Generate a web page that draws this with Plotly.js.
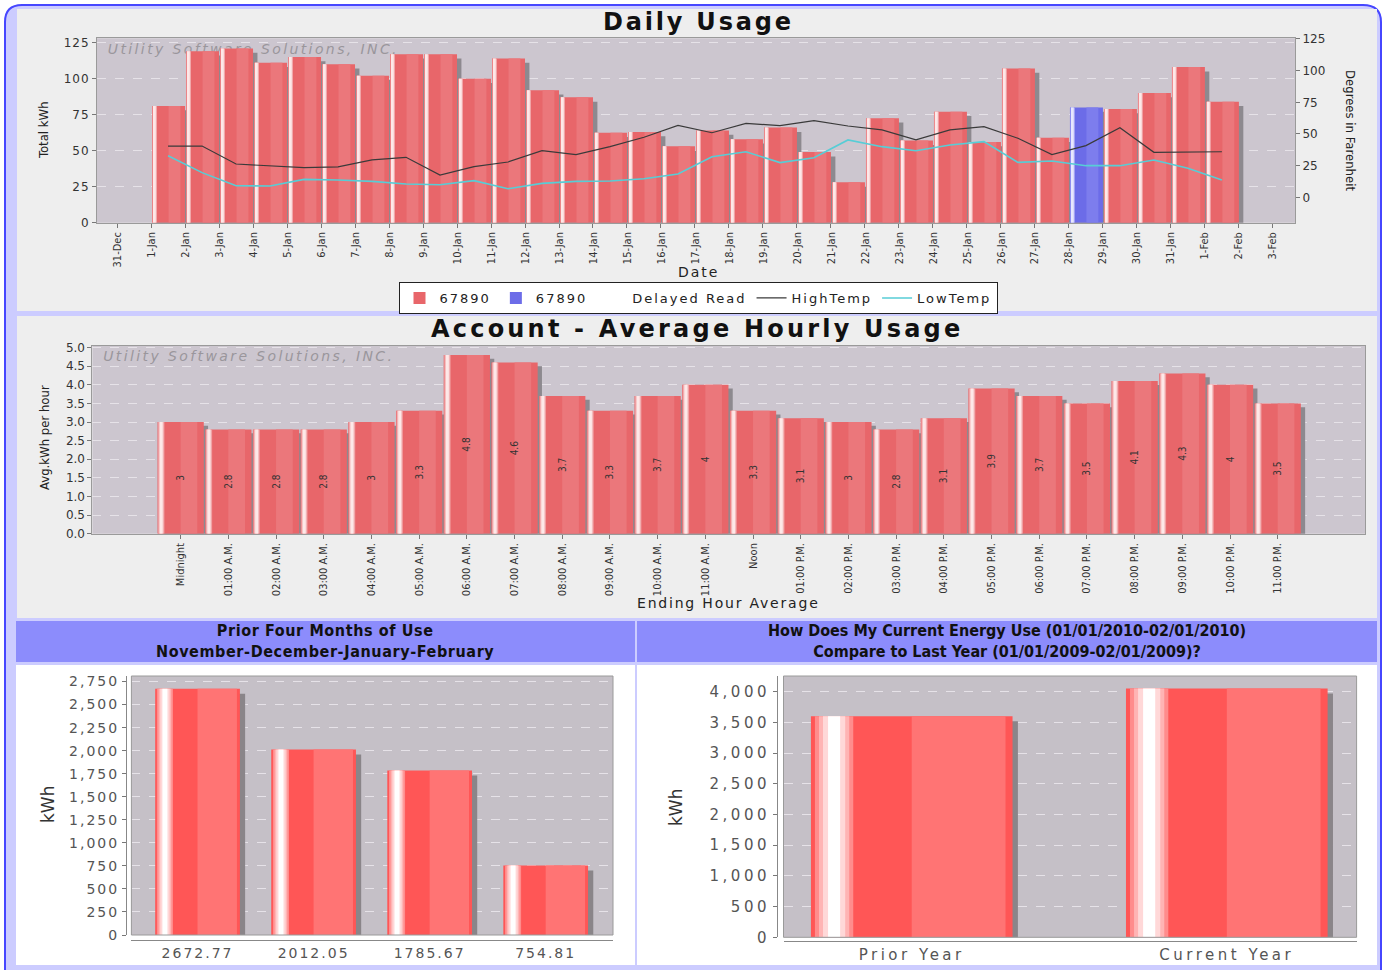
<!DOCTYPE html>
<html><head><meta charset="utf-8">
<script src="https://cdn.plot.ly/plotly-3.0.1.min.js"></script>
<style>
html,body{margin:0;padding:0;background:#fff;}
#chart{width:1382px;height:970px;}
#chart .subplot.x4y4 .xaxislayer-above text,#chart .subplot.x4y4 .yaxislayer-above text{letter-spacing:2px;}
#chart .subplot.x5y5 .xaxislayer-above text,#chart .subplot.x5y5 .yaxislayer-above text{letter-spacing:3.5px;}
#chart .subplot.xy .yaxislayer-above text{letter-spacing:1px;}
</style>
</head><body><div id="chart"></div>
<script>
// ---------------- DATA ----------------
const dateLabels = ['31-Dec','1-Jan','2-Jan','3-Jan','4-Jan','5-Jan','6-Jan','7-Jan','8-Jan','9-Jan','10-Jan',
  '11-Jan','12-Jan','13-Jan','14-Jan','15-Jan','16-Jan','17-Jan','18-Jan','19-Jan','20-Jan','21-Jan','22-Jan',
  '23-Jan','24-Jan','25-Jan','26-Jan','27-Jan','28-Jan','29-Jan','30-Jan','31-Jan','1-Feb','2-Feb','3-Feb'];
const dailyUsage = [null,81,119,121,111,115,110,102,117,117,100,114,92,87,62.5,63,53,64,58,66,49,28,72.5,57,77,56,107,59,null,79,90,108,84,null,null];
const dailyUsageAlt = [null,null,null,null,null,null,null,null,null,null,null,null,null,null,null,null,null,null,null,null,null,null,null,null,null,null,null,null,80,null,null,null,null,null,null];
const highTemp = [null,40.5,40.5,26.3,24.7,23.4,24,29.5,31.6,17.6,24.2,27.9,36.8,33.7,40,47.4,56.8,51,58.4,56.6,60.5,56.3,53.2,45.3,53.2,55.8,46.6,33.7,40.8,55,35.5,35.5,36,null,null];
const lowTemp = [null,32.9,19.5,9.2,8.9,14.2,13.7,12.6,10.5,10,13.2,6.8,11,12.6,12.9,14.7,18.4,32,36,27.4,31.3,45.3,40,36.8,41.3,44,27.6,28.7,25,25,29.5,22.9,13.7,null,null];
const seriesNames = ['67890','67890','Delayed Read','HighTemp','LowTemp'];

const hourLabels = ['Midnight','01:00 A.M.','02:00 A.M.','03:00 A.M.','04:00 A.M.','05:00 A.M.','06:00 A.M.',
  '07:00 A.M.','08:00 A.M.','09:00 A.M.','10:00 A.M.','11:00 A.M.','Noon','01:00 P.M.','02:00 P.M.','03:00 P.M.',
  '04:00 P.M.','05:00 P.M.','06:00 P.M.','07:00 P.M.','08:00 P.M.','09:00 P.M.','10:00 P.M.','11:00 P.M.'];
const hourlyAvg = [3,2.8,2.8,2.8,3,3.3,4.8,4.6,3.7,3.3,3.7,4,3.3,3.1,3,2.8,3.1,3.9,3.7,3.5,4.1,4.3,4,3.5];

const monthLabels = ['2672.77','2012.05','1785.67','754.81'];
const monthUsage = [2672.77,2012.05,1785.67,754.81];

const yearLabels = ['Prior Year','Current Year'];
const yearUsage = [3600,4050];

// ---------------- HELPERS ----------------
const WPX = 1382, HPX = 970;
const px = v => v / WPX;
const py = v => 1 - v / HPX;
const fontMain = "'DejaVu Sans', sans-serif";
const fontCond = "'DejaVu Sans Condensed', 'Liberation Sans Narrow', 'DejaVu Sans', sans-serif";
const spaced = (t, s) => `<span style="letter-spacing:${s}px">${t}</span>`;
const legName = i => spaced(seriesNames[i], 2);

function shadowTrace(c) {
  return {type:'bar', x:c.x, y:c.y, xaxis:c.xa, yaxis:c.ya, base:-c.dy, offset:c.start + c.dx, width:c.W,
    marker:{color:c.shadow, line:{width:0}}, showlegend:false, hoverinfo:'skip', textposition:'none'};
}
function bodyTraces(c) {
  const t = [];
  t.push({type:'bar', x:c.x, y:c.y, xaxis:c.xa, yaxis:c.ya, offset:c.start, width:c.W, name:c.name,
    showlegend:!!c.legend, legendrank:c.rank, marker:{color:c.color, line:{width:0}}, hoverinfo:'x+y', textposition:'none'});
  c.layers.forEach(l => {
    t.push({type:'bar', x:c.x, y:c.y, xaxis:c.xa, yaxis:c.ya, offset:c.start + l[0]*c.W, width:(l[1]-l[0])*c.W,
      marker:{color:l[2], line:{width:0}}, showlegend:false, hoverinfo:'skip', textposition:'none'});
  });
  return t;
}

const redTop = [[0.5,0.86,'#eb777b'],[0.012,0.15,'#ef9a9d'],[0.03,0.13,'#f6c2c3'],[0.05,0.11,'#fde8e8']];
const blueTop = [[0.5,0.86,'#7d7ded'],[0.012,0.15,'#9c9cf2'],[0.03,0.13,'#c4c4f7'],[0.05,0.11,'#e8e8fe']];
const redBottom = [[0.5,0.965,'#ff7474'],[0.02,0.21,'#ff8c8c'],[0.04,0.19,'#ffb4b4'],[0.06,0.17,'#ffd8d8'],[0.085,0.145,'#ffffff']];

// ---------------- TRACES ----------------
const topRed = {x:dateLabels, y:dailyUsage, xa:'x', ya:'y', start:0.03, W:0.97, dx:0.13, dy:3, shadow:'#8d898f',
  color:'#e8666a', layers:redTop, name:legName(0), legend:true, rank:1};
const topBlue = {x:dateLabels, y:dailyUsageAlt, xa:'x', ya:'y', start:0.03, W:0.97, dx:0.13, dy:3, shadow:'#8d898f',
  color:'#6c6ce8', layers:blueTop, name:legName(1), legend:true, rank:2};
const mid = {x:hourLabels, y:hourlyAvg, xa:'x3', ya:'y3', start:-0.485, W:0.97, dx:0.09, dy:0.1, shadow:'#8d898f',
  color:'#e8666a', layers:redTop};
const botL = {x:monthLabels, y:monthUsage, xa:'x4', ya:'y4', start:-0.365, W:0.73, dx:0.045, dy:55, shadow:'#8a8589',
  color:'#ff5656', layers:redBottom};
const botR = {x:yearLabels, y:yearUsage, xa:'x5', ya:'y5', start:-0.32, W:0.64, dx:0.017, dy:80, shadow:'#8a8589',
  color:'#ff5656', layers:redBottom};

const data = [];
data.push(shadowTrace(topRed), shadowTrace(topBlue));
data.push(...bodyTraces(topRed), ...bodyTraces(topBlue));
data.push({type:'bar', x:dateLabels, y:dateLabels.map(() => null), xaxis:'x', yaxis:'y', name:legName(2),
  legendrank:3, marker:{color:'rgba(0,0,0,0)'}, hoverinfo:'skip'});
data.push({type:'scatter', mode:'lines', x:dateLabels, y:highTemp, xaxis:'x2', yaxis:'y2', name:legName(3),
  legendrank:4, line:{color:'#3a3a3a', width:1.2}});
data.push({type:'scatter', mode:'lines', x:dateLabels, y:lowTemp, xaxis:'x2', yaxis:'y2', name:legName(4),
  legendrank:5, line:{color:'#57cdd6', width:1.6}});

data.push(shadowTrace(mid), ...bodyTraces(mid));
data.push({type:'bar', x:hourLabels, y:hourlyAvg, xaxis:'x3', yaxis:'y3', offset:mid.start, width:mid.W,
  marker:{color:'rgba(0,0,0,0)'}, text:hourlyAvg.map(String), textposition:'inside', insidetextanchor:'middle',
  textangle:-90, constraintext:'none', textfont:{family:fontCond, size:10, color:'#333'}, showlegend:false, hoverinfo:'skip'});

data.push(shadowTrace(botL), ...bodyTraces(botL));
data.push(shadowTrace(botR), ...bodyTraces(botR));

// ---------------- LAYOUT ----------------
const outerPath = `M ${px(5)},${py(972)} L ${px(5)},${py(22)} Q ${px(5)},${py(5)} ${px(22)},${py(5)} L ${px(1363)},${py(5)} Q ${px(1381)},${py(5)} ${px(1381)},${py(22)} L ${px(1381)},${py(972)} Z`;
function rect(x0,y0,x1,y1,fill,line,layer){
  return {type:'rect', xref:'paper', yref:'paper', x0:px(x0), x1:px(x1), y0:py(y1), y1:py(y0),
    fillcolor:fill, line:line||{width:0}, layer:layer||'below'};
}
const wmFont = {family:fontMain, size:14, color:'#9a969c', style:'italic'};
const shapes = [
  {type:'path', xref:'paper', yref:'paper', path:outerPath, fillcolor:'#ccccff', line:{color:'#4646ff', width:2}, layer:'below'},
  rect(17,9,1377,311,'#eeeeee'),
  rect(17,316,1377,618,'#eeeeee'),
  rect(16,621,635,662,'#8c8cfc'),
  rect(637,621,1377,662,'#8c8cfc'),
  rect(16,665,635,965,'#ffffff'),
  rect(637,665,1377,965,'#ffffff'),
  rect(97,38.3,1295,222.7,'#ccc6cf'),
  rect(92.4,345.7,1365,533.7,'#ccc6cf'),
  rect(131.4,676,613,935,'#c5c0c7'),
  rect(783.5,676,1356.6,937.3,'#c5c0c7'),
  rect(131.4,676,613,935,'rgba(0,0,0,0)',{color:'#9a9a9a',width:1},'above'),
  rect(783.5,676,1356.6,937.3,'rgba(0,0,0,0)',{color:'#9a9a9a',width:1},'above'),
  {type:'rect', xref:'x', yref:'y', x0:-0.45, x1:12, y0:118.5, y1:124.5, fillcolor:'rgba(0,0,0,0)', line:{width:0}, layer:'below',
    label:{text:spaced('Utility Software Solutions, INC.',2.4), textposition:'middle left', padding:3, font:wmFont}},
  {type:'rect', xref:'x3', yref:'y3', x0:-1.75, x1:6, y0:4.7, y1:4.9, fillcolor:'rgba(0,0,0,0)', line:{width:0}, layer:'below',
    label:{text:spaced('Utility Software Solutions, INC.',2.4), textposition:'middle left', padding:3, font:wmFont}}
];

function ann(text,x,y,opts){
  return Object.assign({text, xref:'paper', yref:'paper', x:px(x), y:py(y), xanchor:'center', yanchor:'middle',
    showarrow:false, font:{family:fontMain, size:14, color:'#222'}}, opts||{});
}
const titleFont = {family:fontMain, size:24, color:'#111', weight:'bold'};
const headFont = {family:fontCond, size:16, color:'#111', weight:'bold'};
const annotations = [
  ann(spaced('Daily Usage',2.8),698,22,{font:titleFont}),
  ann(spaced('Account - Average Hourly Usage',3.2),697,329,{font:titleFont}),
  ann('Total kWh',44,130,{textangle:-90, font:{family:fontCond, size:13, color:'#222'}}),
  ann(spaced('Date',2),698,272),
  ann('Degrees in Farenheit',1350,130,{textangle:90, font:{family:fontCond, size:13, color:'#222'}}),
  ann('Avg.kWh per hour',45,438,{textangle:-90, font:{family:fontCond, size:13, color:'#222'}}),
  ann(spaced('Ending Hour Average',1.8),729,603),
  ann(spaced('Prior Four Months of Use',0.6)+'<br>'+spaced('November-December-January-February',0.6),325,641,{font:headFont}),
  ann('How Does My Current Energy Use (01/01/2010-02/01/2010)<br>Compare to Last Year (01/01/2009-02/01/2009)?',1007,641,{font:headFont}),
  ann('kWh',48,805,{textangle:-90, font:{family:fontMain, size:17, color:'#333'}}),
  ann('kWh',676,808,{textangle:-90, font:{family:fontMain, size:17, color:'#333'}})
];

const gridStyle = {gridcolor:'#e6e2e8', griddash:'dash', gridwidth:1};
const tickDark = {family:fontMain, size:12, color:'#333'};
const tickGray = {family:fontMain, size:14, color:'#555'};

const layout = {
  width:WPX, height:HPX, margin:{l:0,r:0,t:0,b:0}, paper_bgcolor:'#ffffff', plot_bgcolor:'rgba(0,0,0,0)',
  barmode:'overlay', showlegend:true, hovermode:'closest',
  legend:{orientation:'h', x:px(698), xanchor:'center', y:py(298), yanchor:'middle', bgcolor:'#ffffff',
    bordercolor:'#222', borderwidth:1, font:{family:fontMain, size:13, color:'#222'}, traceorder:'normal',
    itemwidth:30, itemclick:false, itemdoubleclick:false},
  xaxis:{domain:[px(97),px(1295)], anchor:'y', type:'category', categoryorder:'array', categoryarray:dateLabels,
    range:[-0.59,34.65], tickmode:'linear', tick0:0, dtick:1, tickangle:-90, tickfont:{family:fontCond, size:11, color:'#333'},
    ticks:'outside', ticklen:4, tickcolor:'#777', showline:true, linecolor:'#9a9a9a', mirror:true, showgrid:false, zeroline:false, fixedrange:true},
  xaxis2:{overlaying:'x', anchor:'y', type:'category', categoryorder:'array', categoryarray:dateLabels,
    range:[-1.09,34.15], visible:false, fixedrange:true},
  yaxis:Object.assign({domain:[py(222.7),py(38.3)], anchor:'x', range:[0,128], tick0:0, dtick:25, tickfont:tickDark,
    ticks:'outside', ticklen:4, tickcolor:'#777', showline:true, linecolor:'#9a9a9a', zeroline:false, fixedrange:true}, gridStyle),
  yaxis2:{overlaying:'y', side:'right', anchor:'x', range:[-20,125.5], tick0:0, dtick:25, tickfont:tickDark,
    ticks:'outside', ticklen:4, tickcolor:'#777', showline:true, linecolor:'#9a9a9a', showgrid:false, zeroline:false, fixedrange:true},
  xaxis3:{domain:[px(92.4),px(1365)], anchor:'y3', type:'category', categoryorder:'array', categoryarray:hourLabels,
    range:[-1.85,24.83], tickangle:-90, tickfont:{family:fontCond, size:11, color:'#333'}, ticks:'outside', ticklen:4, tickcolor:'#777',
    showline:true, linecolor:'#9a9a9a', mirror:true, showgrid:false, zeroline:false, fixedrange:true},
  yaxis3:Object.assign({domain:[py(533.7),py(345.7)], anchor:'x3', range:[0,5.05], tick0:0, dtick:0.5, tickformat:'.1f',
    tickfont:tickDark, ticks:'outside', ticklen:4, tickcolor:'#777', showline:true, linecolor:'#9a9a9a', mirror:true,
    zeroline:false, fixedrange:true}, gridStyle),
  xaxis4:{domain:[px(131.4),px(613)], anchor:'free', position:py(940), type:'category', categoryorder:'array', categoryarray:monthLabels,
    range:[-0.57,3.58], tickfont:tickGray, ticks:'', showline:true, linecolor:'#888', showgrid:false, zeroline:false, fixedrange:true},
  yaxis4:Object.assign({domain:[py(935),py(676)], anchor:'free', position:px(126), range:[0,2810], tick0:0, dtick:250,
    tickformat:',d', tickfont:tickGray, ticks:'outside', ticklen:4, tickcolor:'#777', showline:true, linecolor:'#888',
    zeroline:false, fixedrange:true}, gridStyle),
  xaxis5:{domain:[px(783.5),px(1356.6)], anchor:'free', position:py(941), type:'category', categoryorder:'array', categoryarray:yearLabels,
    range:[-0.407,1.412], tickfont:{family:fontMain, size:15, color:'#555'}, ticks:'', showline:true, linecolor:'#888', showgrid:false, zeroline:false, fixedrange:true},
  yaxis5:Object.assign({domain:[py(937.3),py(676)], anchor:'free', position:px(777), range:[0,4255], tick0:0, dtick:500,
    tickformat:',d', tickfont:{family:fontMain, size:15, color:'#555'}, ticks:'outside', ticklen:4, tickcolor:'#777', showline:true, linecolor:'#888',
    zeroline:false, fixedrange:true}, gridStyle),
  shapes, annotations
};

Plotly.newPlot('chart', data, layout, {displayModeBar:false});
</script>
</body></html>
